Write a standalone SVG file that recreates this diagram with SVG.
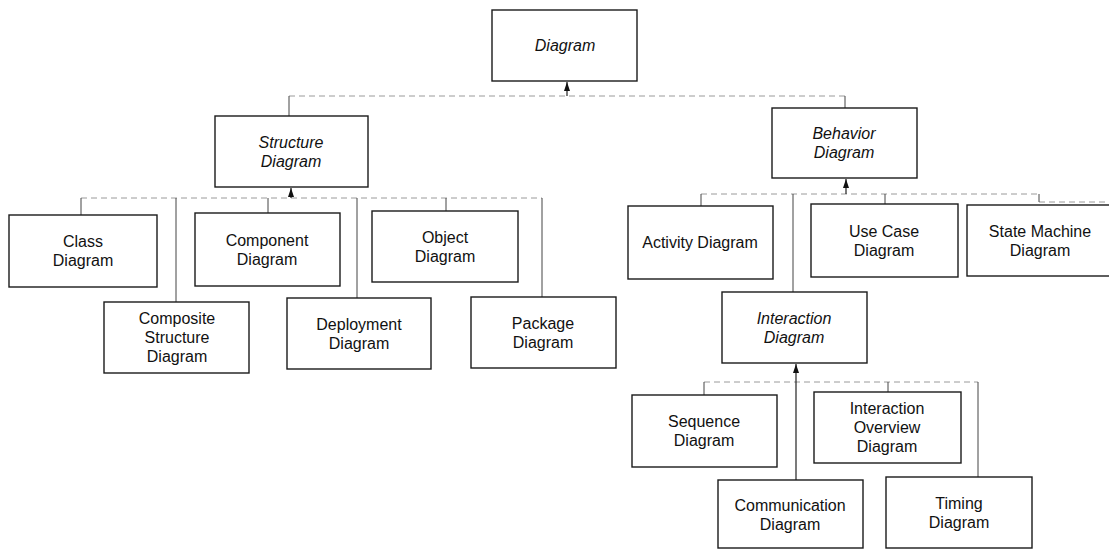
<svg xmlns="http://www.w3.org/2000/svg" width="1109" height="549" viewBox="0 0 1109 549">
<style>
.box{fill:#fff;stroke:#1a1a1a;stroke-width:1.4}
.t{font-family:"Liberation Sans",Arial,sans-serif;font-size:16px;fill:#111;text-anchor:middle}
.i{font-style:italic}
.h{fill:none;stroke:#9a9a9a;stroke-width:1;stroke-dasharray:6 4}
.v{fill:none;stroke:#444;stroke-width:1}
.a{fill:none;stroke:#222;stroke-width:1.2;marker-end:url(#arr)}
</style>
<defs>
<marker id="arr" viewBox="0 0 9 6" refX="9" refY="3" markerWidth="9" markerHeight="6" markerUnits="userSpaceOnUse" orient="auto">
<path d="M0,0 L9,3 L0,6 z" fill="#111"/>
</marker>
</defs>
<rect width="1109" height="549" fill="#fff"/>
<g id="connectors">
<path class="h" d="M289 96 H845"/>
<path class="v" d="M289 96 V116 M845 96 V108"/>
<path class="a" d="M567 96 V82"/>
<path class="h" d="M81 198 H542"/>
<path class="v" d="M81 198 V215 M176 198 V302 M268 198 V213 M357 198 V298 M446 198 V211 M542 198 V297"/>
<path class="a" d="M291 198 V188"/>
<path class="h" d="M701 194 H1039 M1039 202 H1109"/>
<path class="v" d="M701 194 V206 M793 194 V292 M885 194 V204 M1039 194 V202"/>
<path class="a" d="M846 194 V179"/>
<path class="h" d="M704 382 H978"/>
<path class="v" d="M704 382 V395 M888 382 V392 M978 382 V477"/>
<path class="a" d="M796 480 V364"/>
</g>
<g id="diagram"><rect class="box" x="492" y="10" width="145" height="71"/><text class="t i" x="565" y="51">Diagram</text></g>
<g id="structure"><rect class="box" x="215" y="116" width="153" height="71"/><text class="t i" x="291" y="148">Structure</text><text class="t i" x="291" y="167">Diagram</text></g>
<g id="behavior"><rect class="box" x="772" y="108" width="145" height="70"/><text class="t i" x="844" y="139">Behavior</text><text class="t i" x="844" y="158">Diagram</text></g>
<g id="class"><rect class="box" x="9" y="215" width="148" height="72"/><text class="t" x="83" y="247">Class</text><text class="t" x="83" y="266">Diagram</text></g>
<g id="component"><rect class="box" x="195" y="213" width="145" height="73"/><text class="t" x="267" y="246">Component</text><text class="t" x="267" y="265">Diagram</text></g>
<g id="object"><rect class="box" x="372" y="211" width="146" height="71"/><text class="t" x="445" y="243">Object</text><text class="t" x="445" y="262">Diagram</text></g>
<g id="composite"><rect class="box" x="104" y="302" width="145" height="71"/><text class="t" x="177" y="324">Composite</text><text class="t" x="177" y="343">Structure</text><text class="t" x="177" y="362">Diagram</text></g>
<g id="deployment"><rect class="box" x="287" y="298" width="144" height="71"/><text class="t" x="359" y="330">Deployment</text><text class="t" x="359" y="349">Diagram</text></g>
<g id="package"><rect class="box" x="471" y="297" width="145" height="71"/><text class="t" x="543" y="329">Package</text><text class="t" x="543" y="348">Diagram</text></g>
<g id="activity"><rect class="box" x="628" y="206" width="145" height="73"/><text class="t" x="700" y="248">Activity Diagram</text></g>
<g id="usecase"><rect class="box" x="811" y="204" width="147" height="73"/><text class="t" x="884" y="237">Use Case</text><text class="t" x="884" y="256">Diagram</text></g>
<g id="statemachine"><rect class="box" x="967" y="205" width="150" height="71"/><text class="t" x="1040" y="237">State Machine</text><text class="t" x="1040" y="256">Diagram</text></g>
<g id="interaction"><rect class="box" x="722" y="292" width="145" height="71"/><text class="t i" x="794" y="324">Interaction</text><text class="t i" x="794" y="343">Diagram</text></g>
<g id="sequence"><rect class="box" x="632" y="395" width="145" height="72"/><text class="t" x="704" y="427">Sequence</text><text class="t" x="704" y="446">Diagram</text></g>
<g id="overview"><rect class="box" x="814" y="392" width="147" height="71"/><text class="t" x="887" y="414">Interaction</text><text class="t" x="887" y="433">Overview</text><text class="t" x="887" y="452">Diagram</text></g>
<g id="communication"><rect class="box" x="718" y="480" width="145" height="68"/><text class="t" x="790" y="511">Communication</text><text class="t" x="790" y="530">Diagram</text></g>
<g id="timing"><rect class="box" x="886" y="477" width="146" height="71"/><text class="t" x="959" y="509">Timing</text><text class="t" x="959" y="528">Diagram</text></g>
</svg>
